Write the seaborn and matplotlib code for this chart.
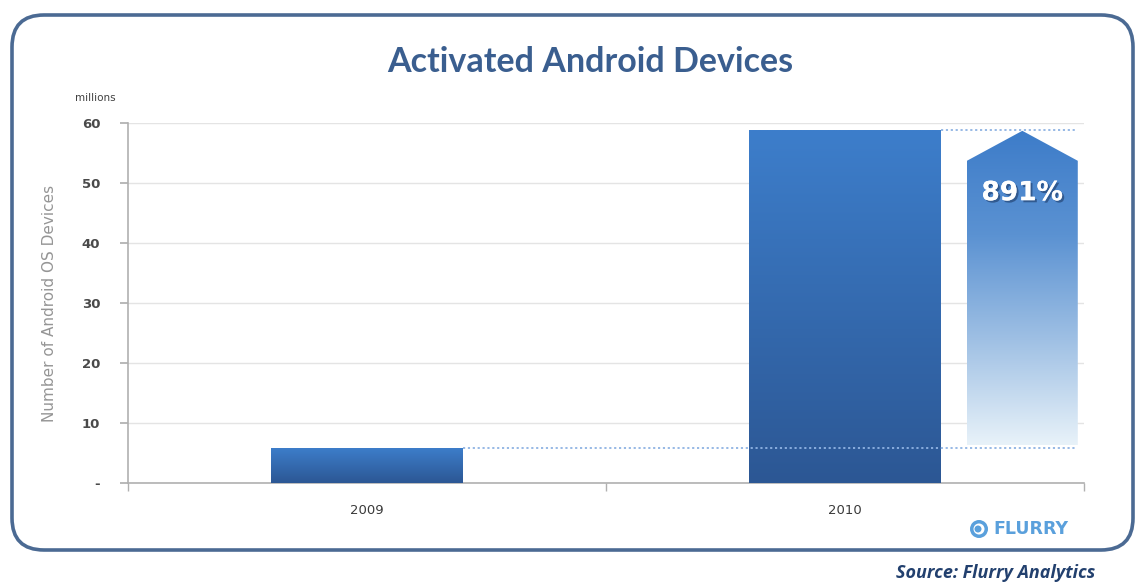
import numpy as np
import pandas as pd
import matplotlib
matplotlib.use("Agg")
import matplotlib.pyplot as plt
import seaborn as sns
from matplotlib.patches import FancyBboxPatch, Polygon, Circle
from matplotlib.colors import LinearSegmentedColormap
import matplotlib.patheffects as pe

years = ["2009", "2010"]
devices = [5.9, 58.8]
growth_label = "891%"
y_ticks = [0, 10, 20, 30, 40, 50, 60]
y_ticklabels = ["-", "10", "20", "30", "40", "50", "60"]

sns.set_theme(style="white")
plt.rcParams['font.family'] = ['DejaVu Sans']

W, H = 1138, 583
fig = plt.figure(figsize=(W / 100, H / 100), dpi=100)
fig.patch.set_facecolor("white")

ax = fig.add_axes([128 / W, 1 - 483 / H, (1084 - 128) / W, (483 - 123) / H])
df = pd.DataFrame({"year": years, "devices": devices})
sns.barplot(data=df, x="year", y="devices", ax=ax, width=0.4, color="#3a74c0",
            saturation=1, zorder=3)

ax.set_xlim(-0.5, 1.5)
ax.set_ylim(0, 60)
ax.set_yticks(y_ticks)
ax.set_yticklabels(y_ticklabels)
ax.set_xlabel("")
ax.set_ylabel("Number of Android OS Devices", color="#959595", fontsize=11, labelpad=18)

for s in ["top", "right"]:
    ax.spines[s].set_visible(False)
for s in ["left", "bottom"]:
    ax.spines[s].set_color("#b0b0b0")
    ax.spines[s].set_linewidth(1.2)

ax.yaxis.grid(True, color="#e4e4e4", linewidth=1, zorder=0)
ax.set_axisbelow(True)
ax.tick_params(axis="y", left=True, length=6, color="#b0b0b0", labelsize=9.5,
               labelcolor="#4a4a4a", pad=14)
ax.tick_params(axis="x", bottom=False, labelsize=9.5, labelcolor="#3a3a3a", pad=9)
for lbl in ax.get_yticklabels():
    lbl.set_fontweight("bold")
# category-boundary ticks on x-axis
ax.set_xticks([-0.5, 0.5, 1.5], minor=True)
ax.tick_params(axis="x", which="minor", bottom=True, length=6, color="#b0b0b0", width=1)

# gradient fills on bars
bar_cmap = LinearSegmentedColormap.from_list("bar", ["#2c5794", "#3d7ecb"])
grad = np.linspace(0, 1, 256).reshape(-1, 1)
for p in ax.patches:
    x0, y0 = p.get_x(), p.get_y()
    w, h = p.get_width(), p.get_height()
    im = ax.imshow(grad, extent=[x0, x0 + w, y0, y0 + h], origin="lower",
                   cmap=bar_cmap, aspect="auto", zorder=4)
    im.set_clip_path(p)
    p.set_edgecolor("none")

# dotted reference lines
right_edge = 1.485
for i, v in enumerate(devices):
    ax.plot([i + 0.2, right_edge], [v, v], linestyle=(0, (1.2, 1.5)), color="#8fb3e3",
            linewidth=1.3, zorder=5)

# growth arrow
ax_l, ax_r = 1.255, 1.487
ax_c = (ax_l + ax_r) / 2
bottom_v = devices[0] + 0.4
top_v = devices[1] - 0.1
shoulder = top_v - 5.0
arrow = Polygon([[ax_l, bottom_v], [ax_r, bottom_v], [ax_r, shoulder], [ax_c, top_v],
                 [ax_l, shoulder]], closed=True, facecolor="none", edgecolor="none",
                zorder=4)
ax.add_patch(arrow)
arr_cmap = LinearSegmentedColormap.from_list("arr", ["#e8f2f9", "#9fc0e4", "#5b92d2", "#3d7cc9"])
im = ax.imshow(grad, extent=[ax_l, ax_r, bottom_v, top_v], origin="lower", cmap=arr_cmap,
               aspect="auto", zorder=4)
im.set_clip_path(arrow)
ax.text(ax_c, 48.3, growth_label, color="white", fontsize=19, fontweight="bold",
        ha="center", va="center", zorder=6, family="DejaVu Sans",
        path_effects=[pe.withSimplePatchShadow(offset=(1.5, -1.5), shadow_rgbFace="#1d3a66",
                                              alpha=0.6), pe.Normal()])

# rounded frame
frame = FancyBboxPatch((12, 33), 1121, 535, boxstyle="round,pad=0,rounding_size=32",
                       transform=None, facecolor="none", edgecolor="#4b6a93", linewidth=2.6)
fig.patches.append(frame)

fig.text(590 / W, 1 - 62 / H, "Activated Android Devices", ha="center", va="center",
         fontsize=24.5, fontweight="bold", color="#3a5e8f", family="Lato")
fig.text(95 / W, 1 - 98 / H, "millions", ha="center", va="center", fontsize=7.5,
         color="#404040")

# logo
fig.patches.append(Circle((979, 583 - 529), 9, transform=None, facecolor="#5aa0dc",
                          edgecolor="none"))
fig.patches.append(Circle((979, 583 - 529), 5.5, transform=None, facecolor="white",
                          edgecolor="none"))
fig.patches.append(Circle((978, 583 - 529), 3.5, transform=None, facecolor="#5aa0dc",
                          edgecolor="none"))
fig.text(993 / W, 1 - 529 / H, "FLURRY", ha="left", va="center", fontsize=12.5,
         fontweight="heavy", color="#5aa0dc", family="DejaVu Sans")

fig.text(1095 / W, 1 - 573 / H, "Source: Flurry Analytics", ha="right", va="center",
         fontsize=13, fontweight="bold", style="italic", color="#22406e", family="Open Sans")

fig.savefig("out.png", dpi=100, facecolor="white")
